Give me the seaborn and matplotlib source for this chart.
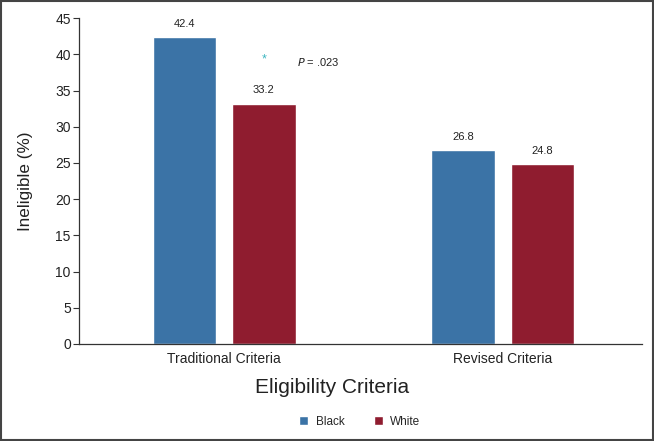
import pandas as pd
import matplotlib
matplotlib.use("Agg")
import matplotlib.pyplot as plt
import seaborn as sns
from matplotlib.patches import Rectangle

# data
criteria = ["Traditional Criteria", "Revised Criteria"]
groups = ["Black", "White"]
black_vals = [42.4, 26.8]
white_vals = [33.2, 24.8]
colors = {"Black": "#3b73a6", "White": "#8f1c2f"}

df = pd.DataFrame({
    "Criteria": criteria * 2,
    "Race": ["Black"] * 2 + ["White"] * 2,
    "Ineligible": black_vals + white_vals,
})

sns.set_theme(style="white")
plt.rcParams['font.family'] = ['Liberation Sans', 'DejaVu Sans']

fig = plt.figure(figsize=(6.54, 4.41), dpi=100)
ax = fig.add_axes([0.121, 0.22, 0.861, 0.739])

sns.barplot(data=df, x="Criteria", y="Ineligible", hue="Race", order=criteria,
            hue_order=groups, palette=colors, width=0.57, gap=0.2,
            saturation=1, ax=ax, legend=True)

for cont in ax.containers:
    ax.bar_label(cont, fmt="%.1f", padding=6, fontsize=8, color="#222222")

# significance marker
ax.text(0.145, 39.3, "*", color="#3bb5c0", fontsize=9, ha="center", va="center")
ax.text(0.26, 39.0, "$P$ = .023", fontsize=8, ha="left", va="center", color="#222222")

ax.set_ylim(0, 45)
ax.set_yticks(range(0, 46, 5))
ax.set_xlim(-0.52, 1.5)
ax.set_ylabel("Ineligible (%)", fontsize=12.3, color="#222222", labelpad=16)
ax.set_xlabel("Eligibility Criteria", fontsize=15, color="#222222")
ax.xaxis.set_label_coords(0.449, -0.105)
ax.tick_params(axis="y", left=True, length=4, width=0.8, color="#333333",
               labelsize=10, labelcolor="#222222", pad=2)
ax.tick_params(axis="x", bottom=False, labelsize=10, labelcolor="#222222", pad=0)
for s in ["top", "right"]:
    ax.spines[s].set_visible(False)
for s in ["left", "bottom"]:
    ax.spines[s].set_color("#333333")
    ax.spines[s].set_linewidth(0.9)

ax.legend(loc="center", bbox_to_anchor=(0.55, 0.043), bbox_transform=fig.transFigure,
          ncol=2, frameon=False, fontsize=8.5, handlelength=0.8, handleheight=0.8,
          columnspacing=2.5, handletextpad=0.6)

fig.patches.append(Rectangle((0.002, 0.003), 0.996, 0.994, transform=fig.transFigure,
                             fill=False, edgecolor="#444444", linewidth=1.5))

fig.savefig("out.png", dpi=100)
